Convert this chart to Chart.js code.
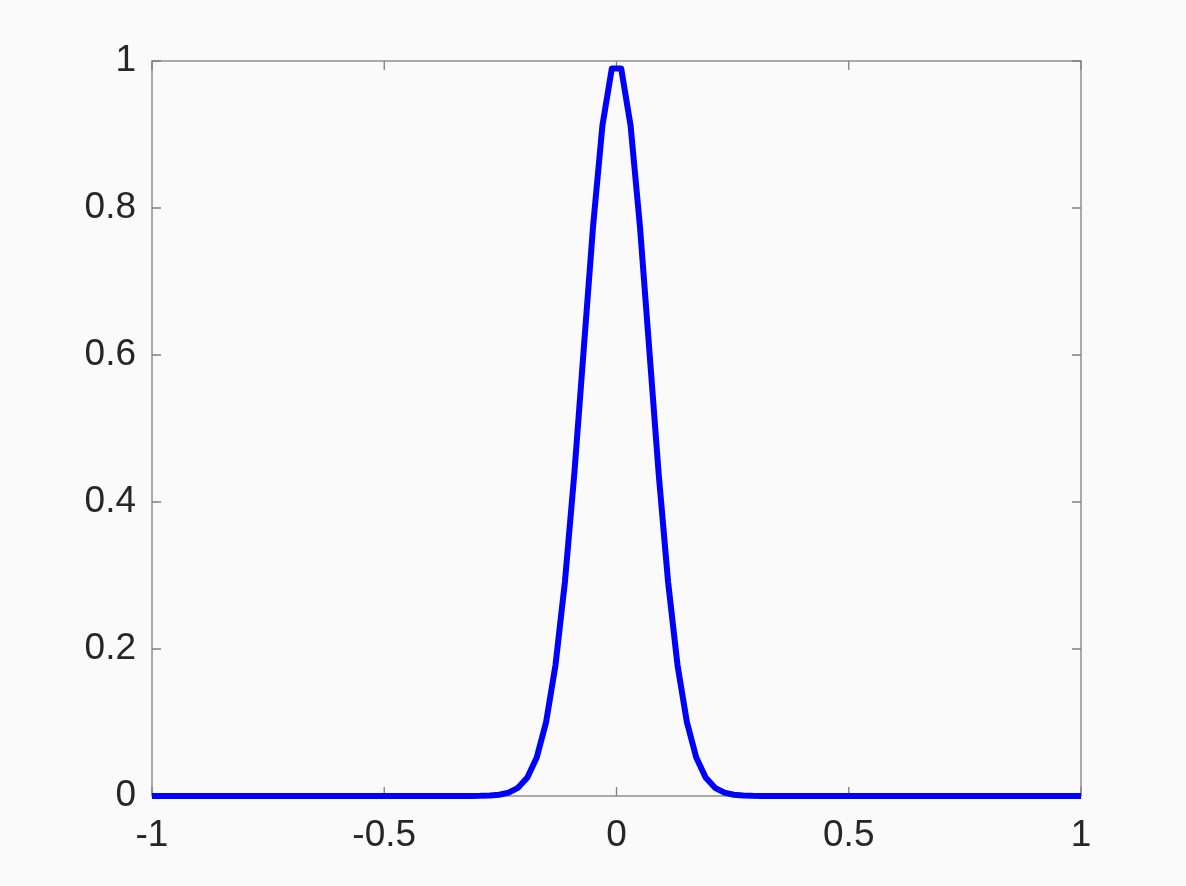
<!DOCTYPE html>
<html>
<head>
<meta charset="utf-8">
<script src="https://cdn.jsdelivr.net/npm/chart.js@4/dist/chart.umd.min.js"></script>
<style>
  html, body { margin: 0; padding: 0; background: #fafafa; }
  #wrap { width: 1186px; height: 886px; position: relative; }
</style>
</head>
<body>
<div id="wrap"><canvas id="chart"></canvas></div>
<script>
// sample positions along x (100 samples from -1 to 1)
const xValues = [
  -1, -0.9798, -0.9596, -0.9394, -0.9192, -0.8990, -0.8788, -0.8586, -0.8384, -0.8182,
  -0.7980, -0.7778, -0.7576, -0.7374, -0.7172, -0.6970, -0.6768, -0.6566, -0.6364, -0.6162,
  -0.5960, -0.5758, -0.5556, -0.5354, -0.5152, -0.4949, -0.4747, -0.4545, -0.4343, -0.4141,
  -0.3939, -0.3737, -0.3535, -0.3333, -0.3131, -0.2929, -0.2727, -0.2525, -0.2323, -0.2121,
  -0.1919, -0.1717, -0.1515, -0.1313, -0.1111, -0.0909, -0.0707, -0.0505, -0.0303, -0.0101,
  0.0101, 0.0303, 0.0505, 0.0707, 0.0909, 0.1111, 0.1313, 0.1515, 0.1717, 0.1919,
  0.2121, 0.2323, 0.2525, 0.2727, 0.2929, 0.3131, 0.3333, 0.3535, 0.3737, 0.3939,
  0.4141, 0.4343, 0.4545, 0.4747, 0.4949, 0.5152, 0.5354, 0.5556, 0.5758, 0.5960,
  0.6162, 0.6364, 0.6566, 0.6768, 0.6970, 0.7172, 0.7374, 0.7576, 0.7778, 0.7980,
  0.8182, 0.8384, 0.8586, 0.8788, 0.8990, 0.9192, 0.9394, 0.9596, 0.9798, 1
];

// curve heights
const yValues = [
  0, 0, 0, 0, 0, 0, 0, 0, 0, 0,
  0, 0, 0, 0, 0, 0, 0, 0, 0, 0,
  0, 0, 0, 0, 0, 0, 0, 0, 0, 0,
  0, 0, 0, 0, 0.0001, 0.0002, 0.0006, 0.0017, 0.0045, 0.0111,
  0.0251, 0.0524, 0.1007, 0.1783, 0.2910, 0.4376, 0.6065, 0.7748, 0.9123, 0.9899,
  0.9899, 0.9123, 0.7748, 0.6065, 0.4376, 0.2910, 0.1783, 0.1007, 0.0524, 0.0251,
  0.0111, 0.0045, 0.0017, 0.0006, 0.0002, 0.0001, 0, 0, 0, 0,
  0, 0, 0, 0, 0, 0, 0, 0, 0, 0,
  0, 0, 0, 0, 0, 0, 0, 0, 0, 0,
  0, 0, 0, 0, 0, 0, 0, 0, 0, 0
];

const xTicks = [-1, -0.5, 0, 0.5, 1];
const xTickLabels = ['-1', '-0.5', '0', '0.5', '1'];
const yTicks = [0, 0.2, 0.4, 0.6, 0.8, 1];
const yTickLabels = ['0', '0.2', '0.4', '0.6', '0.8', '1'];

const AXIS_COLOR = '#808080';
const TEXT_COLOR = '#262626';
const TICK_LEN = 9;
const FONT = { family: "'Liberation Sans', Arial, sans-serif", size: 37 };

// MATLAB-style box with inward ticks on all four sides
const boxTicks = {
  id: 'boxTicks',
  beforeDatasetsDraw(chart) {
    const { ctx, chartArea: a, scales } = chart;
    ctx.save();
    ctx.strokeStyle = AXIS_COLOR;
    ctx.lineWidth = 1.3;
    ctx.strokeRect(a.left, a.top, a.right - a.left, a.bottom - a.top);
    ctx.beginPath();
    for (const v of xTicks) {
      const px = scales.x.getPixelForValue(v);
      ctx.moveTo(px, a.bottom); ctx.lineTo(px, a.bottom - TICK_LEN);
      ctx.moveTo(px, a.top); ctx.lineTo(px, a.top + TICK_LEN);
    }
    for (const v of yTicks) {
      const py = scales.y.getPixelForValue(v);
      ctx.moveTo(a.left, py); ctx.lineTo(a.left + TICK_LEN, py);
      ctx.moveTo(a.right, py); ctx.lineTo(a.right - TICK_LEN, py);
    }
    ctx.stroke();
    ctx.restore();
  }
};

new Chart(document.getElementById('chart'), {
  type: 'line',
  data: {
    datasets: [{
      data: xValues.map((x, i) => ({ x, y: yValues[i] })),
      borderColor: '#0000ff',
      borderWidth: 6,
      pointRadius: 0,
      tension: 0,
      fill: false,
      clip: 8,
      borderJoinStyle: 'round',
      borderCapStyle: 'butt',
    }],
  },
  options: {
    responsive: true, maintainAspectRatio: false, animation: false,
    layout: { padding: { left: 0, right: 105, top: 61, bottom: 0 } },
    plugins: { legend: { display: false }, tooltip: { enabled: false } },
    scales: {
      x: {
        type: 'linear', min: -1, max: 1,
        afterFit(scale) { scale.height = 90; },
        afterBuildTicks(scale) { scale.ticks = xTicks.map(v => ({ value: v })); },
        grid: { display: false },
        border: { display: false },
        ticks: {
          color: TEXT_COLOR, padding: 10, font: FONT, maxRotation: 0,
          callback: (v, i) => xTickLabels[i],
        },
      },
      y: {
        type: 'linear', min: 0, max: 1,
        afterFit(scale) { scale.width = 152; },
        afterBuildTicks(scale) { scale.ticks = yTicks.map(v => ({ value: v })); },
        grid: { display: false },
        border: { display: false },
        ticks: {
          color: TEXT_COLOR, padding: 8, font: FONT,
          callback: (v, i) => yTickLabels[i],
        },
      },
    },
  },
  plugins: [boxTicks],
});
</script>
</body>
</html>
